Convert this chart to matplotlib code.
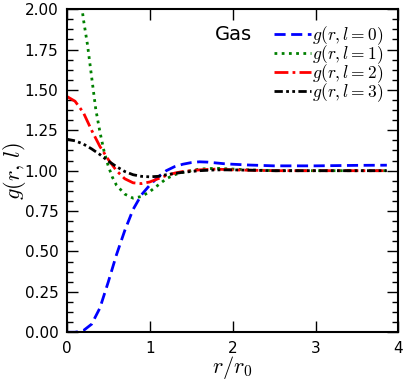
import numpy as np
import matplotlib
matplotlib.use("Agg")
import matplotlib.pyplot as plt
from matplotlib.ticker import AutoMinorLocator

plt.rcParams["mathtext.fontset"] = "cm"

# g(r, l)
r0 = [0, 0.1, 0.2, 0.3, 0.4, 0.5, 0.6, 0.7, 0.8, 0.9, 1.0, 1.1, 1.2, 1.3, 1.4,
      1.5, 1.6, 1.7, 1.8, 1.9, 2.0, 2.2, 2.5, 3.0, 3.5, 3.86]
g0 = [0.0, 0.0, 0.01, 0.05, 0.15, 0.31, 0.48, 0.63, 0.76, 0.85, 0.91, 0.96, 1.0,
      1.025, 1.04, 1.05, 1.055, 1.053, 1.048, 1.043, 1.04, 1.035, 1.03, 1.03, 1.033, 1.034]

r1 = [0.15, 0.2, 0.25, 0.3, 0.35, 0.4, 0.45, 0.5, 0.55, 0.6, 0.7, 0.8, 0.9, 1.0,
      1.1, 1.2, 1.3, 1.4, 1.5, 1.6, 1.8, 2.0, 2.2, 2.5, 3.0, 3.5, 3.86]
g1 = [2.15, 1.94, 1.78, 1.58, 1.38, 1.24, 1.12, 1.03, 0.96, 0.91, 0.855, 0.83, 0.84,
      0.87, 0.91, 0.95, 0.975, 0.99, 1.0, 1.01, 1.015, 1.01, 1.005, 1.0, 1.0, 1.0, 1.0]

r2 = [0, 0.1, 0.2, 0.3, 0.4, 0.5, 0.6, 0.7, 0.8, 0.9, 1.0, 1.1, 1.2, 1.3, 1.4,
      1.5, 1.6, 1.8, 2.0, 2.5, 3.0, 3.5, 3.86]
g2 = [1.46, 1.43, 1.36, 1.25, 1.15, 1.07, 1.0, 0.95, 0.925, 0.92, 0.93, 0.95, 0.97,
      0.985, 0.995, 1.0, 1.005, 1.01, 1.005, 1.0, 1.0, 1.0, 1.0]

r3 = [0, 0.1, 0.2, 0.3, 0.4, 0.5, 0.6, 0.7, 0.8, 0.9, 1.0, 1.1, 1.2, 1.4, 1.6,
      1.8, 2.0, 2.5, 3.0, 3.5, 3.86]
g3 = [1.195, 1.185, 1.165, 1.135, 1.10, 1.06, 1.025, 0.995, 0.975, 0.965, 0.962,
      0.965, 0.975, 0.99, 1.0, 1.005, 1.005, 1.0, 1.0, 1.0, 1.0]

labels = [r"$g(r,l=0)$", r"$g(r,l=1)$", r"$g(r,l=2)$", r"$g(r,l=3)$"]

fig = plt.figure(figsize=(4.07, 3.81), dpi=100)
ax = fig.add_axes([0.164, 0.128, 0.815, 0.848])

ax.plot(r0, g0, color="b", lw=2, dashes=(4, 2), label=labels[0])
ax.plot(r1, g1, color="g", lw=2, dashes=(1, 1.6), label=labels[1])
ax.plot(r2, g2, color="r", lw=2, dashes=(5, 1.5, 1, 1.5), label=labels[2])
ax.plot(r3, g3, color="k", lw=2, dashes=(3, 1.2, 1, 1.2, 1, 1.2), label=labels[3])

ax.set_xlim(0, 4)
ax.set_ylim(0, 2)
ax.set_xticks([0, 1, 2, 3, 4])
ax.set_yticks([0, 0.25, 0.5, 0.75, 1.0, 1.25, 1.5, 1.75, 2.0])
ax.set_yticklabels(["%.2f" % v for v in ax.get_yticks()])
ax.yaxis.set_minor_locator(AutoMinorLocator(4))
ax.tick_params(which="both", direction="in", top=True, right=True, labelsize=11, pad=6)
ax.tick_params(which="major", length=8, width=1)
ax.tick_params(which="minor", length=4, width=1)
for s in ax.spines.values():
    s.set_linewidth(1.5)

ax.set_xlabel(r"$r/r_0$", fontsize=16)
ax.set_ylabel(r"$g(r,\,l)$", fontsize=16)
ax.xaxis.set_label_coords(0.5, -0.068)
ax.yaxis.set_label_coords(-0.118, 0.5)

ax.text(0.447, 0.92, "Gas", transform=ax.transAxes, fontsize=14, va="center")

ax.legend(loc="upper right", frameon=False, handlelength=2.1, handletextpad=0.1,
          labelspacing=-0.2, borderaxespad=0.45, fontsize=12.5)

fig.savefig("out.png", dpi=100)
